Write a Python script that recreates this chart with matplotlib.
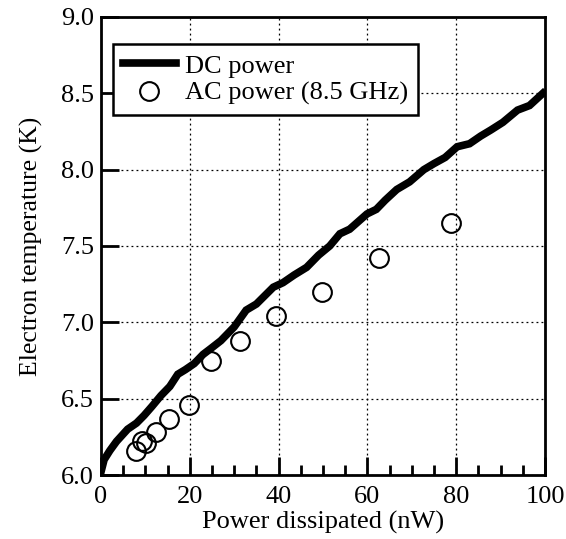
import matplotlib

matplotlib.use("Agg")
import matplotlib.pyplot as plt
from matplotlib.ticker import MultipleLocator, FormatStrFormatter

# DC power sweep
dc_power = [0, 0.7, 2, 3.5, 6, 8, 9.7, 11.5, 13.5, 15.5, 17.3, 19, 21, 23, 24.8,
            27, 30, 32.7, 35, 38.8, 41, 43.5, 46.3, 49, 51.5, 53.8, 56, 59.9,
            62, 64, 66.6, 69.5, 72.7, 75, 77.5, 80.2, 83, 85.5, 87.8, 90.5,
            93.8, 96.5, 99.5]
dc_temp = [6.02, 6.10, 6.16, 6.22, 6.30, 6.34, 6.39, 6.45, 6.52, 6.58, 6.66,
           6.69, 6.73, 6.79, 6.83, 6.88, 6.97, 7.08, 7.12, 7.23, 7.26, 7.31,
           7.36, 7.44, 7.50, 7.58, 7.61, 7.71, 7.74, 7.80, 7.87, 7.92, 8.00,
           8.04, 8.08, 8.15, 8.17, 8.22, 8.26, 8.31, 8.39, 8.42, 8.50]

# AC power (8.5 GHz)
ac_power = [7.9, 9.3, 10.1, 12.4, 15.4, 19.8, 24.8, 31.2, 39.5, 49.7, 62.5, 78.9]
ac_temp = [6.16, 6.22, 6.21, 6.28, 6.37, 6.46, 6.75, 6.88, 7.04, 7.20, 7.42, 7.65]

plt.rcParams["font.family"] = ["Liberation Serif", "DejaVu Serif"]

fig = plt.figure(figsize=(5.66, 5.39), dpi=100)
ax = fig.add_axes([0.1784, 0.1187, 0.7846, 0.8498])

ax.plot(dc_power, dc_temp, color="black", lw=5.5, solid_joinstyle="miter",
        label="DC power", zorder=3)
ax.plot(ac_power, ac_temp, ls="none", marker="o", ms=13.5, mfc="none",
        mec="black", mew=1.5, label="AC power (8.5 GHz)", zorder=4)

ax.set_xlim(0, 100)
ax.set_ylim(6.0, 9.0)
ax.xaxis.set_major_locator(MultipleLocator(20))
ax.xaxis.set_minor_locator(MultipleLocator(5))
ax.yaxis.set_major_locator(MultipleLocator(0.5))
ax.yaxis.set_major_formatter(FormatStrFormatter("%.1f"))

ax.tick_params(axis="both", which="major", direction="in", length=13,
               width=2, labelsize=19, pad=5)
ax.tick_params(axis="x", which="major", pad=8)
ax.tick_params(axis="x", which="minor", direction="in", length=7, width=2)
ax.tick_params(top=False, right=False)

for s in ax.spines.values():
    s.set_linewidth(2)

ax.grid(True, which="major", color="black", ls=(0, (1.5, 2.5)), lw=0.9)

ax.set_xlabel("Power dissipated (nW)", fontsize=19, labelpad=2)
ax.set_ylabel("Electron temperature (K)", fontsize=18.5, labelpad=13)

leg = ax.legend(loc="upper left", bbox_to_anchor=(0.027, 0.941), fontsize=19,
                frameon=True, fancybox=False, edgecolor="black",
                borderpad=0.38, handlelength=2.0, handletextpad=0.35,
                labelspacing=0.15, borderaxespad=0)
leg.get_frame().set_linewidth(1.8)
leg.get_frame().set_alpha(1)

fig.savefig("out.png", dpi=100)
